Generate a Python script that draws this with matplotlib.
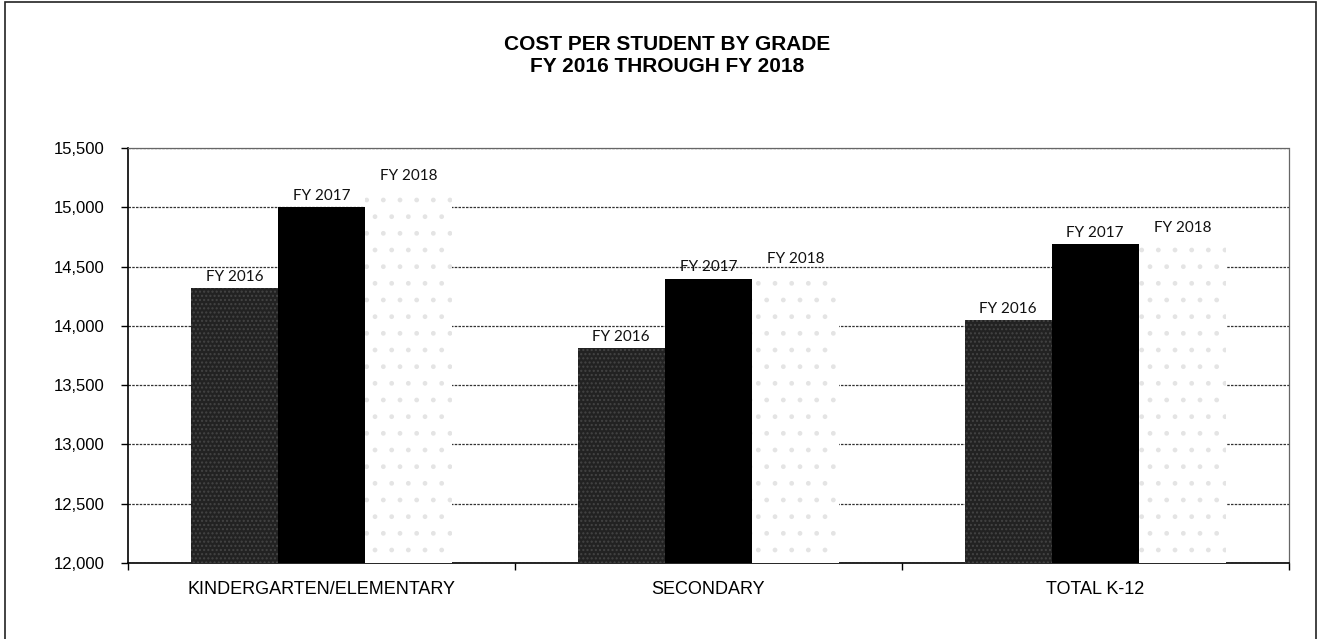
import numpy as np
import matplotlib.pyplot as plt
from matplotlib.patches import Rectangle

categories = ['KINDERGARTEN/ELEMENTARY', 'SECONDARY', 'TOTAL K-12']
series = ['FY 2016', 'FY 2017', 'FY 2018']
fy2016 = [14320, 13815, 14050]
fy2017 = [15005, 14400, 14690]
fy2018 = [15170, 14470, 14730]
yticks = [12000, 12500, 13000, 13500, 14000, 14500, 15000, 15500]

plt.rcParams['font.family'] = ['Liberation Sans', 'DejaVu Sans']

fig = plt.figure(figsize=(13.19, 6.39), dpi=100)
ax = fig.add_axes([0.097, 0.119, 0.880, 0.649])

x = np.arange(len(categories))
w = 0.225
styles = [
    dict(color='#222222', hatch='....', edgecolor='#444444', linewidth=0),
    dict(color='#000000', linewidth=0),
    dict(color='#ffffff', hatch='.', edgecolor='#e4e4e4', linewidth=0),
]
for i, (name, vals) in enumerate(zip(series, [fy2016, fy2017, fy2018])):
    bars = ax.bar(x + (i - 1) * w, vals, w, zorder=3, **styles[i])
    for b, v in zip(bars, vals):
        ax.annotate(name, (b.get_x() + b.get_width() / 2, v),
                    xytext=(0, 3), textcoords='offset points',
                    ha='center', va='bottom', fontsize=11,
                    family=['Lato', 'DejaVu Sans'], color='#111111', zorder=4)

ax.set_ylim(12000, 15500)
ax.set_xlim(-0.5, 2.5)
ax.set_yticks(yticks)
ax.set_yticklabels([f'{t:,}' for t in yticks], fontsize=12)
ax.tick_params(axis='y', length=5, width=1, pad=12)
ax.set_xticks(x)
ax.set_xticklabels(categories, fontsize=13)
ax.tick_params(axis='x', length=0, pad=13)
ax.set_xticks([-0.5, 0.5, 1.5, 2.5], minor=True)
ax.tick_params(axis='x', which='minor', length=5, width=1, direction='out')

ax.grid(axis='y', color='#333333', linestyle=(0, (2, 1)), linewidth=0.9, zorder=1)
for s in ['left', 'bottom']:
    ax.spines[s].set_linewidth(1.2)
for s in ['top', 'right']:
    ax.spines[s].set_color('#666666')
    ax.spines[s].set_linestyle((0, (1, 1)))
    ax.spines[s].set_linewidth(0.9)

fig.text(0.506, 0.913, 'COST PER STUDENT BY GRADE\nFY 2016 THROUGH FY 2018',
         ha='center', va='center', fontsize=15, fontweight='bold',
         linespacing=1.2)

fig.add_artist(Rectangle((5 / 1319, -0.02), 1311 / 1319, 1.02 - 2.5 / 639,
                         transform=fig.transFigure, fill=False,
                         edgecolor='#222222', linewidth=1.2))

fig.savefig('out.png', dpi=100)
